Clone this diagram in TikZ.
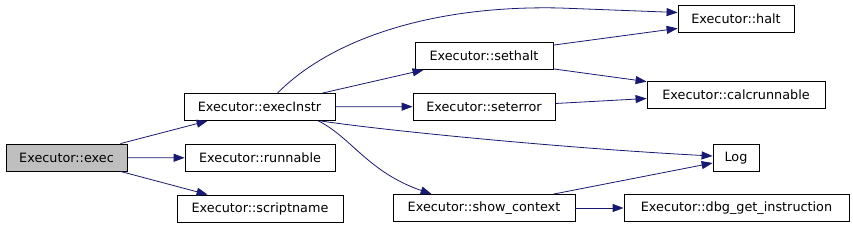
\documentclass[tikz,border=0pt]{standalone}
\usepackage{fontspec}
\setmainfont{DejaVu Sans}
\usetikzlibrary{
    arrows.meta,
    positioning,
    calc
}
\definecolor{DoxBlue}{RGB}{25,25,112}
\definecolor{DoxGray}{RGB}{191,191,191}
\tikzset{
  fn/.style     = {draw, rectangle, line width=0.8pt, minimum height=27pt,
                   inner sep=0pt, align=center, font=\fontsize{12.8}{14}\selectfont},
  fncur/.style  = {fn, fill=DoxGray},
  call/.style   = {-{Triangle[length=11pt,width=8pt]}, DoxBlue, line width=0.8pt}
}

\begin{document}
\begin{tikzpicture}[x=1pt,y=-1pt]
\useasboundingbox (0,0) rectangle (853,227);
% function boxes
\node[fncur, minimum width=121pt] (exec)       at (66.5,157.5) {Executor::exec};
\node[fn, minimum width=151pt]    (execInstr)  at (259.5,107)  {Executor::execInstr};
\node[fn, minimum width=150pt]    (runnable)   at (260,158)    {Executor::runnable};
\node[fn, minimum width=166pt]    (scriptname) at (260,208.5)  {Executor::scriptname};
\node[fn, minimum width=116pt]    (halt)       at (736,18.5)   {Executor::halt};
\node[fn, minimum width=138pt]    (sethalt)    at (484,56)     {Executor::sethalt};
\node[fn, minimum width=178pt]    (calcrun)    at (736,94.5)   {Executor::calcrunnable};
\node[fn, minimum width=142pt]    (seterror)   at (484,106.5)  {Executor::seterror};
\node[fn, minimum width=46pt]     (log)        at (736,158)    {Log};
\node[fn, minimum width=182pt]    (showctx)    at (484,208)    {Executor::show\_context};
\node[fn, minimum width=225pt]    (dbgins)     at (736.5,208)  {Executor::dbg\_get\_instruction};
% calls
\draw[call] ([xshift=-7pt]exec.north east) -- ([xshift=24pt]execInstr.south west);
\draw[call] (exec) -- (runnable);
\draw[call] ([xshift=-7pt]exec.south east) -- ([xshift=31pt]scriptname.north west);
\draw[call] ([xshift=18pt]execInstr.north) .. controls (330,40) and (430,5) .. (560,8)
            -- ([yshift=6pt]halt.west);
\draw[call] ([xshift=-13pt]execInstr.north east) -- ([xshift=9pt]sethalt.south west);
\draw[call] (execInstr) -- (seterror);
\draw[call] ([xshift=-15pt]execInstr.south east) .. controls (380,130) and (560,148)
            .. ([yshift=2pt]log.west);
\draw[call] ([xshift=-17pt]execInstr.south east) .. controls (352,138) and (368,172)
            .. ([xshift=39pt]showctx.north west);
\draw[call] ([yshift=-3pt]sethalt.north east) -- ([yshift=4pt]halt.south west);
\draw[call] ([yshift=1pt]sethalt.south east) -- ([yshift=-1pt]calcrun.north west);
\draw[call] ([yshift=3pt]seterror.east) -- ([yshift=-4pt]calcrun.west);
\draw[call] ([xshift=-22pt]showctx.north east) -- ([yshift=-5pt]log.west);
\draw[call] (showctx) -- (dbgins);
\end{tikzpicture}
\end{document}
